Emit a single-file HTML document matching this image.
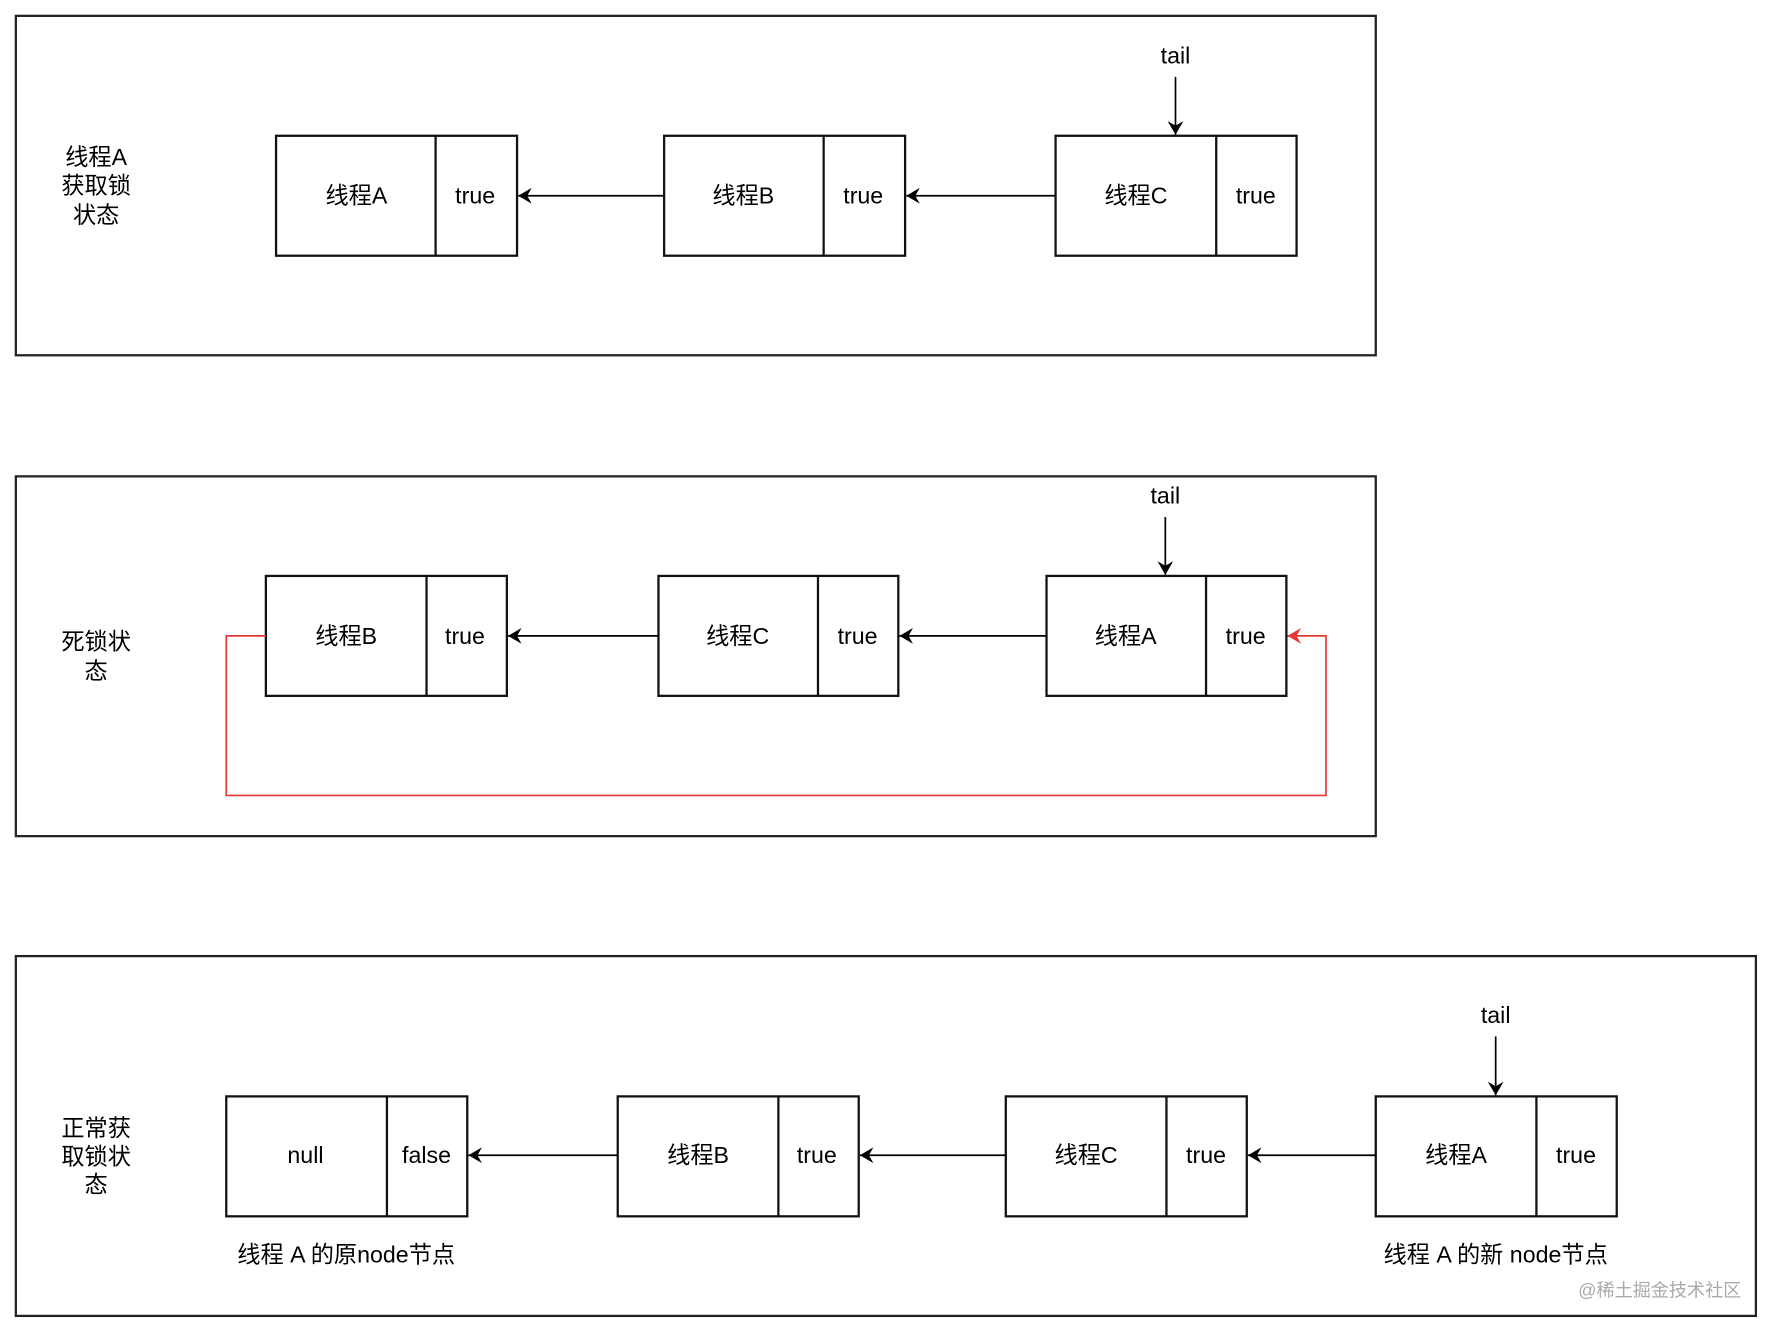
<!DOCTYPE html>
<html><head><meta charset="utf-8"><style>html,body{margin:0;padding:0;background:#fff}svg{display:block}</style></head><body>
<svg width="1774" height="1334" viewBox="0 0 1568 1179" preserveAspectRatio="none" xmlns="http://www.w3.org/2000/svg" font-family="'Liberation Sans','Noto Sans CJK SC',sans-serif" font-size="20.5" fill="#000">
<defs>
<marker id="ab" markerWidth="14" markerHeight="14" refX="12" refY="7" orient="auto" markerUnits="userSpaceOnUse"><path d="M0,0 L12,7 L0,14 L4,7 z" fill="#000"/></marker>
<marker id="ar" markerWidth="14" markerHeight="14" refX="12" refY="7" orient="auto" markerUnits="userSpaceOnUse"><path d="M0,0 L12,7 L0,14 L4,7 z" fill="#e53935"/></marker>
</defs>
<g fill="none" stroke="#222" stroke-width="2">
<rect x="14" y="14" width="1202" height="300"/>
<rect x="14" y="421" width="1202" height="318"/>
<rect x="14" y="845" width="1538" height="318"/>
</g>
<g fill="none" stroke="#111" stroke-width="2">
<rect x="244" y="120" width="213" height="106"/><line x1="385" y1="120" x2="385" y2="226"/>
<rect x="587" y="120" width="213" height="106"/><line x1="728" y1="120" x2="728" y2="226"/>
<rect x="933" y="120" width="213" height="106"/><line x1="1075" y1="120" x2="1075" y2="226"/>
<rect x="235" y="509" width="213" height="106"/><line x1="377" y1="509" x2="377" y2="615"/>
<rect x="582" y="509" width="212" height="106"/><line x1="723" y1="509" x2="723" y2="615"/>
<rect x="925" y="509" width="212" height="106"/><line x1="1066" y1="509" x2="1066" y2="615"/>
<rect x="200" y="969" width="213" height="106"/><line x1="342" y1="969" x2="342" y2="1075"/>
<rect x="546" y="969" width="213" height="106"/><line x1="688" y1="969" x2="688" y2="1075"/>
<rect x="889" y="969" width="213" height="106"/><line x1="1031" y1="969" x2="1031" y2="1075"/>
<rect x="1216" y="969" width="213" height="106"/><line x1="1358" y1="969" x2="1358" y2="1075"/>
</g>
<g stroke="#000" stroke-width="1.5" fill="none" marker-end="url(#ab)">
<line x1="587" y1="173" x2="458" y2="173"/>
<line x1="933" y1="173" x2="801" y2="173"/>
<line x1="1039" y1="68" x2="1039" y2="119"/>
<line x1="582" y1="562" x2="449" y2="562"/>
<line x1="925" y1="562" x2="795" y2="562"/>
<line x1="1030" y1="457" x2="1030" y2="508"/>
<line x1="546" y1="1021" x2="414" y2="1021"/>
<line x1="889" y1="1021" x2="760" y2="1021"/>
<line x1="1216" y1="1021" x2="1103" y2="1021"/>
<line x1="1322" y1="916" x2="1322" y2="968"/>
</g>
<path d="M235,562 H200 V703 H1172 V562 H1138" fill="none" stroke="#e53935" stroke-width="1.5" marker-end="url(#ar)"/>
<g text-anchor="middle">
<text x="85" y="146">线程A</text><text x="85" y="171">获取锁</text><text x="85" y="197">状态</text>
<text x="315" y="180">线程A</text><text x="420" y="180">true</text>
<text x="657" y="180">线程B</text><text x="763" y="180">true</text>
<text x="1004" y="180">线程C</text><text x="1110" y="180">true</text>
<text x="1039" y="56">tail</text>
<text x="85" y="574">死锁状</text><text x="85" y="600">态</text>
<text x="306" y="569">线程B</text><text x="411" y="569">true</text>
<text x="652" y="569">线程C</text><text x="758" y="569">true</text>
<text x="995" y="569">线程A</text><text x="1101" y="569">true</text>
<text x="1030" y="445">tail</text>
<text x="85" y="1004">正常获</text><text x="85" y="1029">取锁状</text><text x="85" y="1054">态</text>
<text x="270" y="1028">null</text><text x="377" y="1028">false</text>
<text x="617" y="1028">线程B</text><text x="722" y="1028">true</text>
<text x="960" y="1028">线程C</text><text x="1066" y="1028">true</text>
<text x="1287" y="1028">线程A</text><text x="1393" y="1028">true</text>
<text x="1322" y="904">tail</text>
<text x="306" y="1116">线程 A 的原node节点</text>
<text x="1322" y="1116">线程 A 的新 node节点</text>
<text x="1467" y="1146" font-size="16" fill="#aaa">@稀土掘金技术社区</text>
</g>
</svg>
</body></html>
